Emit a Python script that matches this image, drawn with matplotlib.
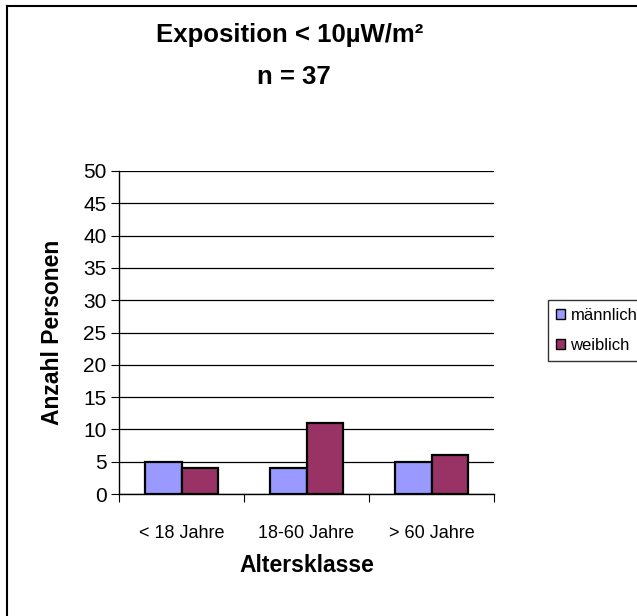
import matplotlib.pyplot as plt
import numpy as np
from matplotlib.lines import Line2D

# data
categories = ['< 18 Jahre', '18-60 Jahre', '> 60 Jahre']
maennlich = [5, 4, 5]
weiblich = [4, 11, 6]
series_names = ['männlich', 'weiblich']

plt.rcParams['font.family'] = ['Liberation Sans', 'DejaVu Sans']

fig = plt.figure(figsize=(6.37, 6.16), dpi=100)
ax = fig.add_axes([119 / 637, 1 - 494 / 616, 375 / 637, 323 / 616])

x = np.arange(len(categories))
w = 0.29
ax.bar(x - w / 2, maennlich, w, color='#9999FF', edgecolor='black', linewidth=1.6,
       label=series_names[0], zorder=3)
ax.bar(x + w / 2, weiblich, w, color='#993366', edgecolor='black', linewidth=1.6,
       label=series_names[1], zorder=3)

ax.set_xlim(-0.5, 2.5)
ax.set_ylim(0, 50)
ax.set_yticks(range(0, 51, 5))
ax.yaxis.grid(True, color='black', linewidth=0.9, zorder=0)
ax.set_axisbelow(True)

# category ticks on boundaries, labels centred
ax.set_xticks([-0.5, 0.5, 1.5, 2.5])
ax.set_xticklabels([])
ax.set_xticks(x, minor=True)
ax.set_xticklabels(categories, minor=True, fontsize=13)
ax.tick_params(axis='x', which='minor', length=0, pad=22)
ax.tick_params(axis='x', which='major', length=6, direction='out')
ax.tick_params(axis='y', length=6, direction='out', labelsize=15, pad=3)

for s in ['top', 'right']:
    ax.spines[s].set_visible(False)
ax.spines['left'].set_linewidth(1)
ax.spines['bottom'].set_linewidth(1)

ax.set_xlabel('Altersklasse', fontsize=16.5, fontweight='bold', labelpad=9)
ax.set_ylabel('Anzahl Personen', fontsize=16.5, fontweight='bold', labelpad=14)

fig.text(290 / 637, 1 - 35 / 616, 'Exposition < 10µW/m²', ha='center', va='center',
         fontsize=18.5, fontweight='bold')
fig.text(294 / 637, 1 - 77 / 616, 'n = 37', ha='center', va='center',
         fontsize=18.5, fontweight='bold')

handles = [plt.Rectangle((0, 0), 1, 1, facecolor='#9999FF', edgecolor='black'),
           plt.Rectangle((0, 0), 1, 1, facecolor='#993366', edgecolor='black')]
leg = fig.legend(handles, series_names, loc='upper left',
                 bbox_to_anchor=(548 / 637, 1 - 300 / 616), fontsize=12,
                 frameon=True, fancybox=False, edgecolor='black',
                 handlelength=0.55, handleheight=0.55, handletextpad=0.35,
                 borderpad=0.45, labelspacing=0.95, borderaxespad=0)
leg.get_frame().set_linewidth(1)

# outer border (left and top only visible)
fig.add_artist(Line2D([7 / 637, 7 / 637], [0, 1 - 6 / 616], color='black',
                      linewidth=1.5, transform=fig.transFigure))
fig.add_artist(Line2D([7 / 637, 1], [1 - 6 / 616, 1 - 6 / 616], color='black',
                      linewidth=1.5, transform=fig.transFigure))

fig.savefig('out.png', dpi=100)
